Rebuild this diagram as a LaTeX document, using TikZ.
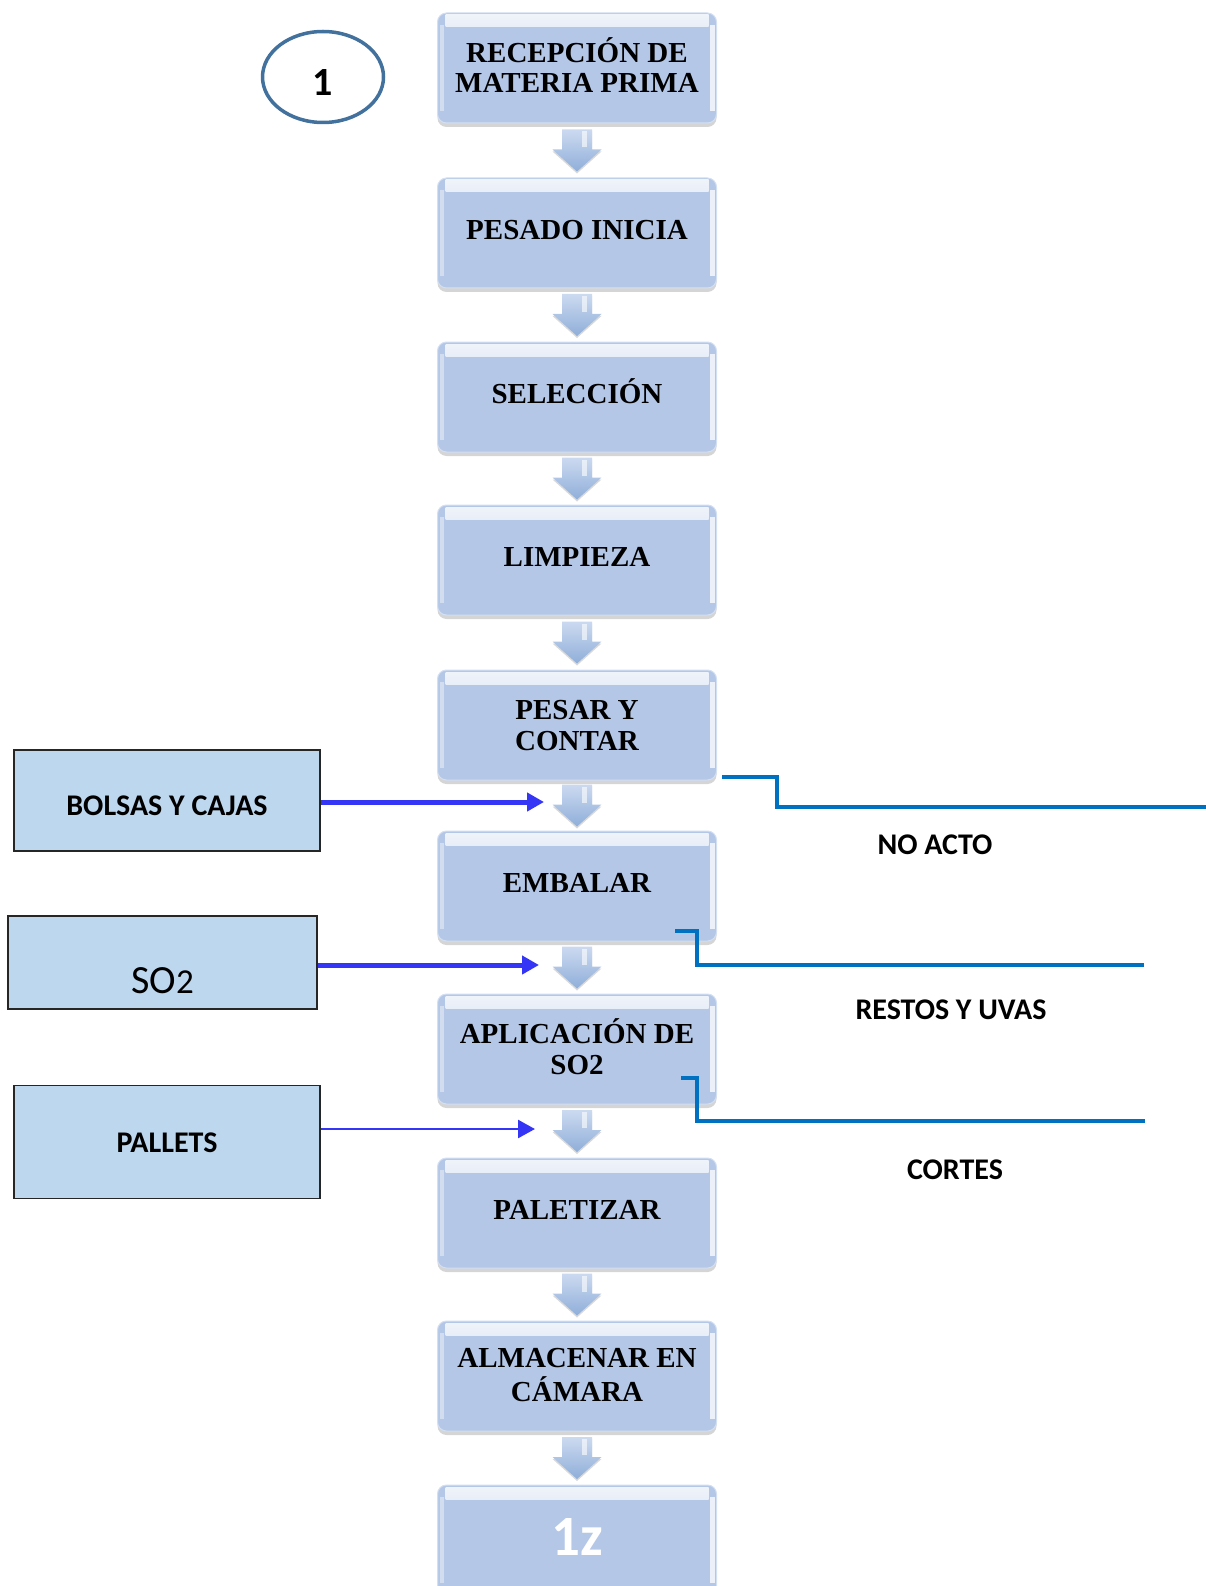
\documentclass[tikz,border=0pt]{standalone}
\usepackage{fontspec}
\setmainfont{Liberation Serif}
\newfontfamily\calibri{Carlito}
\usetikzlibrary{shadows,calc,arrows.meta,shapes.geometric}
\definecolor{boxblue}{HTML}{B4C7E7}
\definecolor{boxedge}{HTML}{D3DFF2}
\definecolor{sidebox}{HTML}{BDD7EE}
\definecolor{inblue}{HTML}{3535F5}
\definecolor{outblue}{HTML}{0070C0}
\definecolor{ringblue}{HTML}{41719C}
\definecolor{arrtop}{HTML}{CCDAF0}
\definecolor{arrbot}{HTML}{8FAED9}
\newcommand{\oneline}[1]{\smash{\raisebox{-6.5pt}{#1}}}
\newcommand{\twoline}[2]{\smash{\raisebox{-25pt}{\begin{tabular}[b]{@{}c@{}}#1\\[-1pt]#2\end{tabular}}}}
\newcommand{\atbase}[2]{\smash{\raisebox{#1}{#2}}}
\begin{document}
\begin{tikzpicture}[x=1pt,y=-1pt,
  procbox/.style={rounded corners=9pt, fill=boxblue, draw=boxedge, line width=1pt,
    minimum width=279pt, minimum height=110pt, inner sep=0pt, align=center,
    font=\bfseries\fontsize{29}{31.5}\selectfont,
    drop shadow={shadow xshift=0pt, shadow yshift=-4pt, opacity=.3, fill=black!55},
    path picture={
      \shade[top color=white!80!boxblue, bottom color=boxblue, rounded corners=0pt]
        ([xshift=8pt,yshift=-2pt]path picture bounding box.north west) rectangle
        ([xshift=-8pt,yshift=-14pt]path picture bounding box.north east);
      \fill[white,opacity=.4, rounded corners=0pt]
        ([xshift=2pt,yshift=-12pt]path picture bounding box.north west) rectangle
        ([xshift=6pt,yshift=12pt]path picture bounding box.south west);
      \fill[white,opacity=.75, rounded corners=0pt]
        ([xshift=-7pt,yshift=-12pt]path picture bounding box.north east) rectangle
        ([xshift=-2pt,yshift=12pt]path picture bounding box.south east);
    }},
  sidebox/.style={rectangle, fill=sidebox, draw=black!85, line width=1.3pt, inner sep=0pt,
    font=\calibri\bfseries\fontsize{30}{32}\selectfont},
  outlabel/.style={font=\calibri\bfseries\fontsize{30}{32}\selectfont, inner sep=0pt},
  inarrow/.style={draw=inblue, line width=5pt, -{Triangle[length=17pt,width=18pt]}},
  outline/.style={draw=outblue, line width=4pt},
  downarr/.pic={
    \path[top color=arrtop, bottom color=arrbot,
      drop shadow={shadow xshift=0pt, shadow yshift=-2pt, opacity=.25, fill=black!60}]
      (-15,-21) -- (15,-21) -- (15,-1) -- (24.5,-1) -- (0,21) -- (-24.5,-1) -- (-15,-1) -- cycle;
    \fill[white,opacity=.6] (5,-19) rectangle (10,-3);
  }
]
\useasboundingbox (0,0) rectangle (1206,1586);
\clip (0,0) rectangle (1206,1586);

% process boxes
\node[procbox] (b1) at (577,68) {\twoline{RECEPCIÓN DE}{MATERIA PRIMA}};
\node[procbox] (b2) at (577,233) {\oneline{PESADO INICIA}};
\node[procbox] (b3) at (577,397) {\oneline{SELECCIÓN}};
\node[procbox] (b4) at (577,560) {\oneline{LIMPIEZA}};
\node[procbox] (b5) at (577,725) {\twoline{PESAR Y}{CONTAR}};
\node[procbox] (b6) at (577,886) {\oneline{EMBALAR}};
\node[procbox] (b7) at (577,1049) {\twoline{APLICACIÓN DE}{SO2}};
\node[procbox] (b8) at (577,1213) {\oneline{PALETIZAR}};
\node[procbox] (b9) at (577,1376) {\twoline{ALMACENAR EN}{CÁMARA}};
\node[procbox, text=white, font=\calibri\bfseries\fontsize{57}{59}\selectfont] (b10) at (577,1540) {\atbase{-15pt}{1z}};

% down arrows between boxes
\pic at ($(b1.south)!0.5!(b2.north)$) {downarr};
\pic at ($(b2.south)!0.5!(b3.north)$) {downarr};
\pic at ($(b3.south)!0.5!(b4.north)$) {downarr};
\pic at ($(b4.south)!0.5!(b5.north)$) {downarr};
\pic at ($(b5.south)!0.5!(b6.north)$) {downarr};
\pic at ($(b6.south)!0.5!(b7.north)$) {downarr};
\pic at ($(b7.south)!0.5!(b8.north)$) {downarr};
\pic at ($(b8.south)!0.5!(b9.north)$) {downarr};
\pic at ($(b9.south)!0.5!(b10.north)$) {downarr};

% circle
\node[ellipse, draw=ringblue, line width=3.5pt, minimum width=121pt, minimum height=91pt,
  font=\calibri\bfseries\fontsize{40}{42}\selectfont] (ring) at (323,77) {\atbase{-19pt}{1}};

% input boxes
\node[sidebox, minimum width=306pt, minimum height=101pt] (bolsas) at (167,800.5) {\atbase{-15pt}{BOLSAS Y CAJAS}};
\node[sidebox, minimum width=309pt, minimum height=93pt] (so2box) at (162.5,962.5)
  {\atbase{-30.5pt}{\calibri\mdseries\fontsize{40}{42}\selectfont SO{\fontsize{35}{36}\selectfont 2}}};
\node[sidebox, minimum width=306pt, minimum height=113pt] (pallets) at (167,1142) {\atbase{-10pt}{PALLETS}};

\coordinate (i1) at (544,802);
\coordinate (i2) at (539,965);
\coordinate (i3) at (535,1129);
\draw[inarrow] (bolsas.east |- i1) -- (i1);
\draw[inarrow] (so2box.east |- i2) -- (i2);
\draw[inarrow, line width=2.5pt] (pallets.east |- i3) -- (i3);

% output lines
\coordinate (r1a) at (722,777);
\coordinate (r1b) at (1206,807);
\coordinate (r2a) at (675,931);
\coordinate (r2b) at (1144,965);
\coordinate (r3a) at (681,1078);
\coordinate (r3b) at (1145,1121);
\draw[outline] (r1a) -- ++(55,0) |- (r1b);
\draw[outline] (r2a) -- ++(22,0) |- (r2b);
\draw[outline] (r3a) -- ++(16,0) |- (r3b);

\node[outlabel] (noacto) at (935,845) {NO ACTO};
\node[outlabel] (restos) at (951,1010) {RESTOS Y UVAS};
\node[outlabel] (cortes) at (955,1170) {CORTES};
\end{tikzpicture}
\end{document}
